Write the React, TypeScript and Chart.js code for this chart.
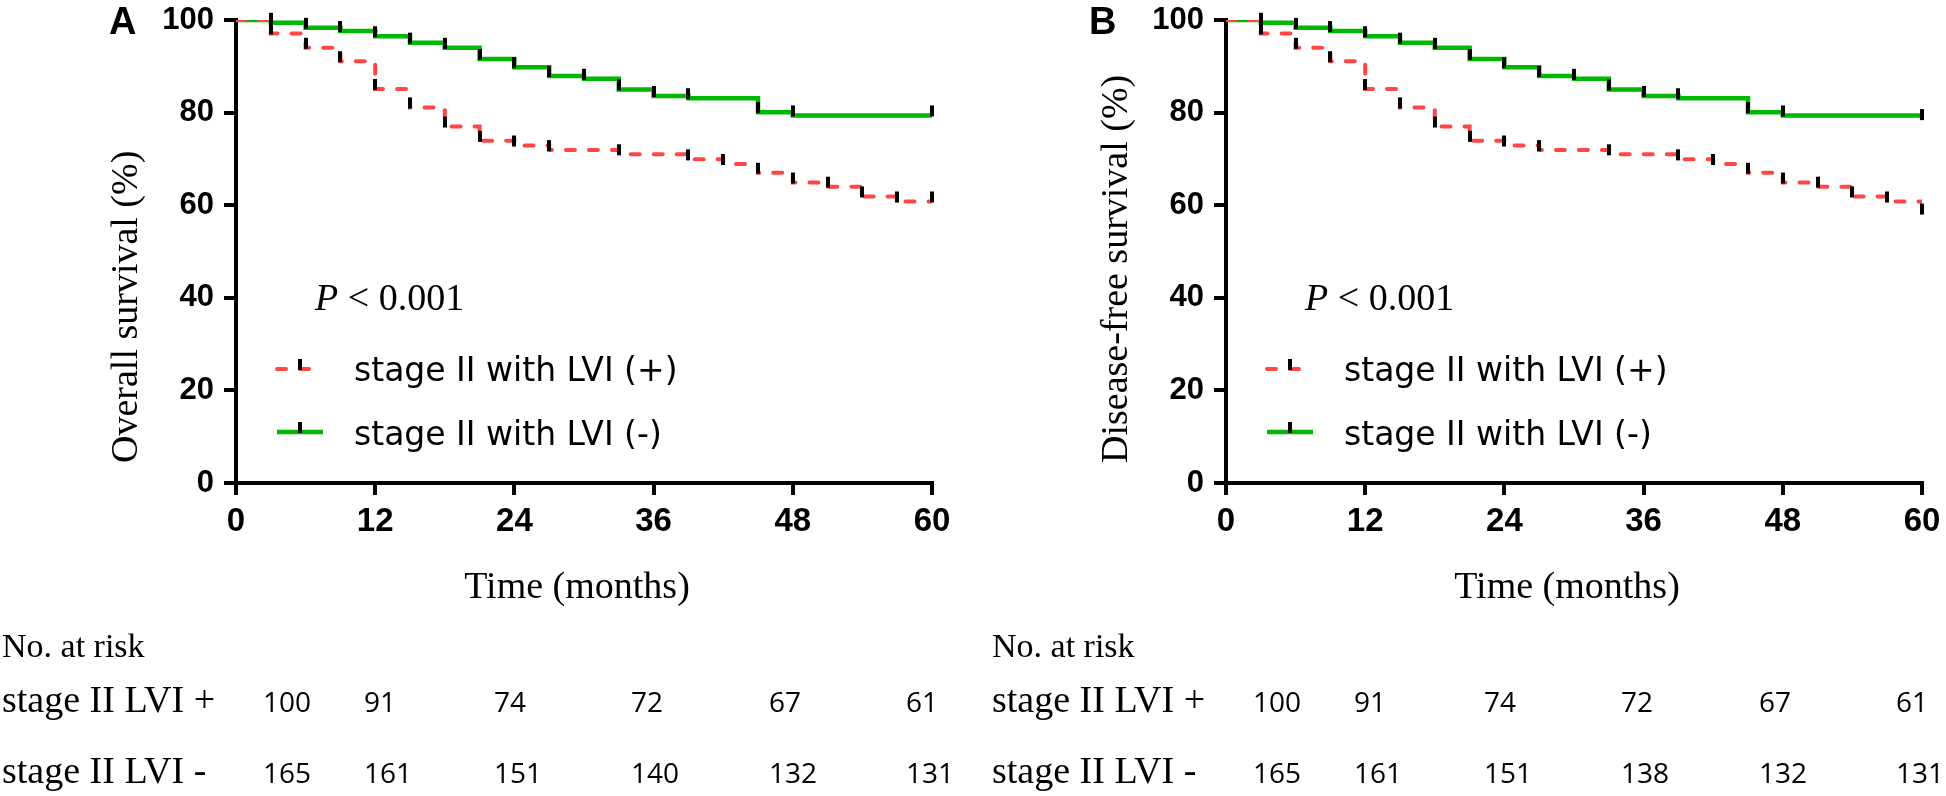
import React, { useEffect, useRef } from 'react';
import { Chart, registerables } from 'chart.js';

Chart.register(...registerables);

// ---------------- data ----------------
const xTickValues = [0, 12, 24, 36, 48, 60];
const yTickValues = [0, 20, 40, 60, 80, 100];

const seriesLabels = ['stage II with LVI (+)', 'stage II with LVI (-)'];
const riskRowLabels = ['stage II LVI +', 'stage II LVI -'];

// LVI (+) step times and survival (%)
const lviPosTimes = [0, 3, 6, 9, 12, 15, 18, 21, 24, 27, 33, 39, 42, 45, 48, 51, 54, 57, 60];
const osLviPos = [100, 97.1, 94.0, 91.1, 85.1, 81.1, 77.0, 73.9, 72.9, 71.9, 71.0, 69.9, 68.9, 67.0, 64.9, 64.0, 61.9, 60.8, 60.8];
const dfsLviPos = [100, 97.1, 94.0, 91.1, 85.1, 81.1, 77.0, 73.9, 72.9, 71.9, 71.0, 69.9, 68.9, 67.0, 64.9, 64.0, 61.9, 60.8, 58.2];

// LVI (-) step times and survival (%)
const lviNegTimes = [0, 3, 6, 9, 12, 15, 18, 21, 24, 27, 30, 33, 36, 39, 45, 48, 60];
const osLviNeg = [100, 99.4, 98.3, 97.6, 96.5, 95.1, 94.0, 91.6, 89.8, 87.9, 87.3, 85.0, 83.6, 83.1, 80.1, 79.4, 79.4];
const dfsLviNeg = [100, 99.4, 98.3, 97.6, 96.5, 95.1, 94.0, 91.6, 89.8, 87.9, 87.3, 85.0, 83.6, 83.1, 80.1, 79.4, 78.6];

// censor marks (months)
const lviPosCensor = [3, 6, 9, 12, 15, 18, 21, 24, 27, 33, 39, 42, 45, 48, 51, 54, 57, 60];
const lviNegCensor = [3, 6, 9, 12, 15, 18, 21, 24, 27, 30, 33, 36, 39, 45, 48, 60];

// numbers at risk
const riskTimes = [0, 12, 24, 36, 48, 60];
const osRiskPos = [100, 91, 74, 72, 67, 61];
const osRiskNeg = [165, 161, 151, 140, 132, 131];
const dfsRiskPos = [100, 91, 74, 72, 67, 61];
const dfsRiskNeg = [165, 161, 151, 138, 132, 131];

// ---------------- styles / layout ----------------
const RED = 'rgb(255,70,70)';
const GREEN = 'rgb(0,184,0)';
const H = 796;
const AREA_LEFT = 236;
const AREA_RIGHT = 932;
const AREA_TOP = 20;
const AREA_BOTTOM = 483;
const SERIF = '"Liberation Serif", "Times New Roman", Times, serif';
const SANS = '"Liberation Sans", Arial, Helvetica, sans-serif';
const riskColX = [263, 364, 494, 631, 769, 906];

const panels = [
  {
    left: 0, width: 990, letter: 'A', letterX: 109, yTitle: 'Overall survival (%)',
    pos: osLviPos, neg: osLviNeg, riskPos: osRiskPos, riskNeg: osRiskNeg,
  },
  {
    left: 990, width: 956, letter: 'B', letterX: 99, yTitle: 'Disease-free survival (%)',
    pos: dfsLviPos, neg: dfsLviNeg, riskPos: dfsRiskPos, riskNeg: dfsRiskNeg,
  },
];

function survivalAt(times: number[], surv: number[], t: number) {
  let v = surv[0];
  for (let i = 0; i < times.length; i++) if (times[i] <= t) v = surv[i];
  return v;
}

function makeCensorImage() {
  const c = document.createElement('canvas');
  c.width = 4;
  c.height = 24;
  const g = c.getContext('2d')!;
  g.fillStyle = '#000';
  g.fillRect(0, 2, 4, 11);
  return c;
}

function Panel({ cfg }: { cfg: any }) {
  const ref = useRef<HTMLCanvasElement>(null);
  useEffect(() => {
    const censorImg = makeCensorImage();
    const annot = {
      id: 'kmAnnot',
      afterDraw(chart: any) {
        const ctx = chart.ctx as CanvasRenderingContext2D;
        ctx.save();
        ctx.fillStyle = '#000';
        ctx.textBaseline = 'alphabetic';
        ctx.textAlign = 'left';
        // panel letter
        ctx.font = `bold 38px ${SANS}`;
        ctx.fillText(cfg.letter, cfg.letterX, 34);
        // y title
        ctx.save();
        ctx.translate(137, 463);
        ctx.rotate(-Math.PI / 2);
        ctx.font = `38px ${SERIF}`;
        ctx.fillText(cfg.yTitle, 0, 0);
        ctx.restore();
        // x title
        ctx.font = `38px ${SERIF}`;
        ctx.textAlign = 'center';
        ctx.fillText('Time (months)', 577, 598);
        ctx.textAlign = 'left';
        // P value
        ctx.font = `italic 38px ${SERIF}`;
        ctx.fillText('P', 315, 310);
        const pw = ctx.measureText('P').width;
        ctx.font = `38px ${SERIF}`;
        ctx.fillText(' < 0.001', 315 + pw, 310);
        // legend
        const lineY = [369, 432];
        const textY = [381, 445];
        for (let i = 0; i < 2; i++) {
          ctx.save();
          ctx.beginPath();
          if (i === 0) {
            ctx.strokeStyle = RED;
            ctx.lineWidth = 4;
            ctx.lineCap = 'round';
            ctx.setLineDash([9, 14]);
          } else {
            ctx.strokeStyle = GREEN;
            ctx.lineWidth = 4.5;
            ctx.lineCap = 'butt';
          }
          ctx.moveTo(277, lineY[i]);
          ctx.lineTo(323, lineY[i]);
          ctx.stroke();
          ctx.restore();
          ctx.fillStyle = '#000';
          ctx.fillRect(298, lineY[i] - 10, 4, 11);
          ctx.font = `33px "DejaVu Sans", Verdana, sans-serif`;
          ctx.fillText(seriesLabels[i], 354, textY[i]);
        }
        // risk table
        ctx.font = `34px ${SERIF}`;
        ctx.fillText('No. at risk', 2, 657);
        const rowY = [712, 783];
        const rows = [cfg.riskPos, cfg.riskNeg];
        for (let r = 0; r < 2; r++) {
          ctx.font = `38px ${SERIF}`;
          ctx.fillText(riskRowLabels[r], 2, rowY[r]);
          ctx.font = `28px "Open Sans", "Noto Sans", sans-serif`;
          for (let c = 0; c < riskTimes.length; c++) {
            ctx.fillText(String(rows[r][c]), riskColX[c], rowY[r]);
          }
        }
        ctx.restore();
      },
    };

    const chart = new Chart(ref.current!, {
      type: 'line',
      data: {
        datasets: [
          {
            label: 'censored +',
            data: lviPosCensor.map((t) => ({ x: t, y: survivalAt(lviPosTimes, cfg.pos, t) })),
            showLine: false,
            pointStyle: censorImg as any,
            pointRadius: 5,
            pointHoverRadius: 5,
            clip: false as any,
          },
          {
            label: 'censored -',
            data: lviNegCensor.map((t) => ({ x: t, y: survivalAt(lviNegTimes, cfg.neg, t) })),
            showLine: false,
            pointStyle: censorImg as any,
            pointRadius: 5,
            pointHoverRadius: 5,
            clip: false as any,
          },
          {
            label: seriesLabels[0],
            data: lviPosTimes.map((t, i) => ({ x: t, y: cfg.pos[i] })),
            stepped: true,
            borderColor: RED,
            borderWidth: 4,
            borderDash: [9, 14],
            borderCapStyle: 'round',
            pointRadius: 0,
            fill: false,
            clip: 0 as any,
          },
          {
            label: seriesLabels[1],
            data: lviNegTimes.map((t, i) => ({ x: t, y: cfg.neg[i] })),
            stepped: true,
            borderColor: GREEN,
            borderWidth: 4.5,
            pointRadius: 0,
            fill: false,
            clip: 0 as any,
          },
        ],
      },
      options: {
        responsive: false,
        animation: false,
        devicePixelRatio: 1,
        events: [],
        layout: { padding: { left: 0, top: AREA_TOP, right: cfg.width - AREA_RIGHT, bottom: 0 } },
        plugins: { legend: { display: false }, tooltip: { enabled: false } },
        scales: {
          x: {
            type: 'linear',
            min: 0,
            max: 60,
            afterBuildTicks: (s: any) => {
              s.ticks = xTickValues.map((v) => ({ value: v }));
            },
            afterFit: (s: any) => {
              s.height = H - AREA_BOTTOM;
              s.paddingLeft = 0;
              s.paddingRight = 0;
            },
            ticks: {
              color: '#000',
              font: { family: SANS, size: 33, weight: 'bold' },
              padding: 7,
              maxRotation: 0,
              autoSkip: false,
            },
            grid: { drawOnChartArea: false, drawTicks: true, tickLength: 12, tickWidth: 4, tickColor: '#000', color: '#000', lineWidth: 4 },
            border: { display: true, color: '#000', width: 4 },
          },
          y: {
            type: 'linear',
            min: 0,
            max: 100,
            afterBuildTicks: (s: any) => {
              s.ticks = yTickValues.map((v) => ({ value: v }));
            },
            afterFit: (s: any) => {
              s.width = AREA_LEFT;
              s.paddingTop = 0;
              s.paddingBottom = 0;
            },
            ticks: {
              color: '#000',
              font: { family: SANS, size: 31, weight: 'bold' },
              padding: 10,
              autoSkip: false,
            },
            grid: { drawOnChartArea: false, drawTicks: true, tickLength: 12, tickWidth: 4, tickColor: '#000', color: '#000', lineWidth: 4 },
            border: { display: true, color: '#000', width: 4 },
          },
        },
      } as any,
      plugins: [annot],
    });
    return () => chart.destroy();
  }, []);
  return (
    <canvas
      ref={ref}
      width={cfg.width}
      height={H}
      style={{ position: 'absolute', left: cfg.left, top: 0, width: cfg.width, height: H }}
    />
  );
}

export default function App() {
  return (
    <div style={{ position: 'absolute', left: 0, top: 0, width: 1946, height: H, background: '#fff', overflow: 'hidden' }}>
      {panels.map((p) => (
        <Panel key={p.letter} cfg={p} />
      ))}
    </div>
  );
}
